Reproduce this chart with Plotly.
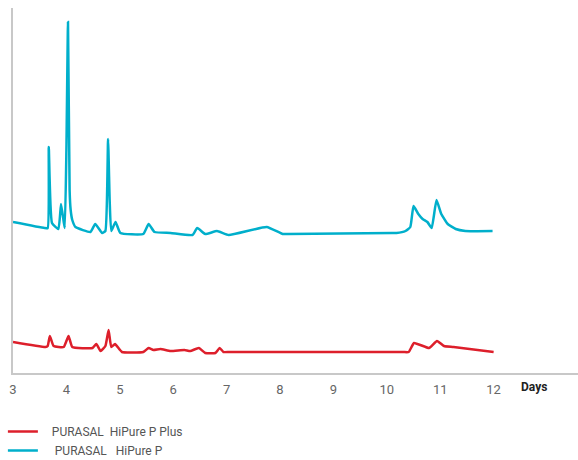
import plotly.graph_objects as go

# Days axis
x_ticks = [3, 4, 5, 6, 7, 8, 9, 10, 11, 12]

# PURASAL HiPure P (blue)
hp_days = [3.0, 3.59, 3.65, 3.67, 3.73, 3.85, 3.90, 3.95, 3.97, 4.00, 4.03, 4.06, 4.08, 4.11,
           4.17, 4.45, 4.54, 4.67, 4.73, 4.78, 4.81, 4.84, 4.92, 5.01, 5.44, 5.54, 5.65, 5.95,
           6.36, 6.45, 6.60, 6.82, 7.04, 7.75, 8.05, 8.15, 10.1, 10.18, 10.35, 10.44, 10.50,
           10.59, 10.67, 10.76, 10.84, 10.93, 11.02, 11.14, 11.29, 11.47, 11.98]
hp_vals = [151, 145, 145, 226, 150, 144, 169, 151, 145, 223, 351, 183, 163, 153,
           146, 141, 149, 140, 142, 234, 173, 142, 151, 140, 139, 149, 141, 140,
           138, 145, 139, 142, 138, 146, 139, 139, 140, 140, 142, 146, 167,
           159, 154, 151, 145, 173, 159, 149, 144, 142, 142]

# PURASAL HiPure P Plus (red)
hpp_days = [3.0, 3.61, 3.65, 3.69, 3.76, 3.95, 4.04, 4.11, 4.49, 4.56, 4.64, 4.73, 4.79, 4.84,
            4.91, 5.04, 5.44, 5.54, 5.63, 5.76, 5.95, 6.21, 6.32, 6.48, 6.60, 6.79, 6.87, 6.94,
            7.05, 10.3, 10.41, 10.51, 10.79, 10.94, 11.07, 11.25, 12.0]
hpp_vals = [31, 26, 27, 37, 27, 26, 37, 26, 25, 29, 22, 27, 43, 26,
            29, 21, 21, 25, 23, 24, 22, 23, 22, 25, 20, 20, 25, 21,
            21, 21, 21, 30, 25, 32, 27, 26, 21]

series_names = ["\u00a0\u00a0\u00a0PURASAL\u00a0 HiPure P Plus",
                "\u00a0\u00a0\u00a0\u00a0PURASAL\u00a0\u00a0 HiPure P"]

fig = go.Figure()
fig.add_trace(go.Scatter(x=hpp_days, y=hpp_vals, mode="lines", name=series_names[0],
                         line=dict(color="#DD1F2B", width=2.5, shape="spline", smoothing=0.4)))
fig.add_trace(go.Scatter(x=hp_days, y=hp_vals, mode="lines", name=series_names[1],
                         line=dict(color="#00AFCB", width=2.5, shape="spline", smoothing=0.4)))

fig.update_layout(
    width=578, height=460,
    margin=dict(l=13, r=0, t=8, b=87, autoexpand=False),
    paper_bgcolor="white", plot_bgcolor="white",
    font=dict(family="Roboto, Liberation Sans, sans-serif", color="#666666"),
    showlegend=True,
    legend=dict(xref="container", yref="container", x=0.005, y=1 - 417 / 460,
                xanchor="left", yanchor="top",
                orientation="v", traceorder="normal",
                font=dict(size=12, color="#555555"),
                bgcolor="rgba(0,0,0,0)", itemwidth=30, tracegroupgap=0),
    xaxis=dict(range=[3, 13.58], tickvals=x_ticks, ticktext=[str(t) for t in x_ticks],
               showgrid=False, zeroline=False, showline=True, linecolor="#C8C8C8",
               linewidth=1.5, ticks="", tickfont=dict(size=13, color="#666666"),
               ticklabelstandoff=4, automargin=False),
    yaxis=dict(range=[0, 365], showgrid=False, zeroline=False, showline=True,
               linecolor="#C8C8C8", linewidth=1.5, showticklabels=False, ticks="",
               automargin=False),
    annotations=[dict(text="<b>Days</b>", xref="paper", yref="paper",
                      x=(534 - 13) / 565, y=-14 / 365, xanchor="center", yanchor="middle",
                      showarrow=False, font=dict(size=12, color="#222222"))],
)

fig.write_html("out.html", config={"displayModeBar": False},
               post_script="document.body.style.margin='0';document.body.style.padding='0';document.body.style.overflow='hidden';")
